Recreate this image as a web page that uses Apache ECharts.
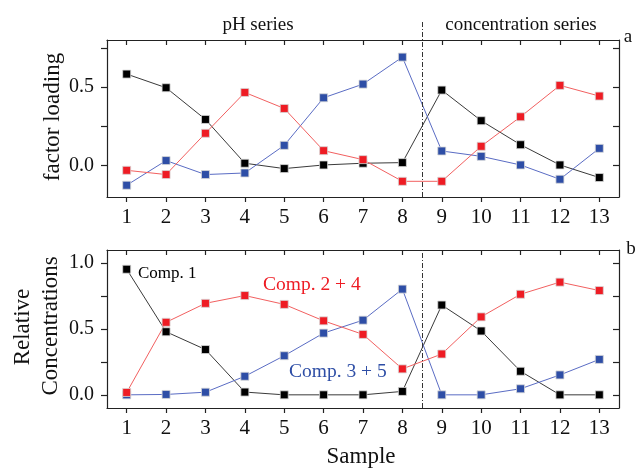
<!DOCTYPE html>
<html>
<head>
<meta charset="utf-8">
<script src="https://cdn.jsdelivr.net/npm/echarts@6/dist/echarts.min.js"></script>
<style>
html,body{margin:0;padding:0;background:#fff;}
#c{width:635px;height:469px;}
</style>
</head>
<body>
<div id="c"></div>
<script>
// ---- data ----
const samples = [1,2,3,4,5,6,7,8,9,10,11,12,13];
const loadComp1 = [0.583,0.496,0.294,0.015,-0.019,0.004,0.015,0.019,0.481,0.286,0.133,0.004,-0.076];
const loadComp24 = [-0.030,-0.057,0.206,0.466,0.364,0.095,0.038,-0.100,-0.100,0.123,0.311,0.511,0.443];
const loadComp35 = [-0.125,0.032,-0.057,-0.047,0.129,0.432,0.519,0.691,0.093,0.059,0.004,-0.087,0.110];
const concComp1 = [0.954,0.479,0.344,0.021,0.0,0.0,0.0,0.026,0.682,0.485,0.179,0.0,0.0];
const concComp24 = [0.018,0.551,0.695,0.754,0.687,0.562,0.459,0.197,0.310,0.592,0.764,0.856,0.792];
const concComp35 = [0.0,0.003,0.020,0.141,0.297,0.469,0.567,0.803,0.0,0.0,0.046,0.151,0.269];
const topTickLabels = [0, 0.5];
const topTicks = [0, 0.25, 0.5, 0.75];
const botTickLabels = [0, 0.5, 1.0];
const botTicks = [0, 0.25, 0.5, 0.75, 1.0];
const separatorX = 8.5;

const FONT = '"Liberation Serif", "DejaVu Serif", serif';
const BLACK = '#000000', RED = '#ee1c24', BLUE = '#2e4ea6';
const LBLACK = '#3a3a3a', LRED = '#f26060', LBLUE = '#5a6cc4';

function pairs(vals){ return samples.map((s,i)=>[s, vals[i]]); }

function xAx(grid, pos, showLabels){
  return {
    type:'value', gridIndex:grid, position:pos, min:0.5, max:13.5,
    axisLine:{show:true, onZero:false, lineStyle:{color:'#222', width:1.2}},
    axisTick:{show:true, inside: !showLabels, length:5, customValues:samples, lineStyle:{color:'#222', width:1.2}},
    axisLabel:{show:showLabels, customValues:samples, fontFamily:FONT, fontSize:21, color:'#111', margin:10},
    splitLine:{show:false}
  };
}
function yAx(grid, pos, min, max, labels, ticks, showLabels){
  return {
    type:'value', gridIndex:grid, position:pos, min:min, max:max,
    axisLine:{show:true, onZero:false, lineStyle:{color:'#222', width:1.2}},
    axisTick:{show:true, inside: !showLabels, length:6, customValues:ticks, lineStyle:{color:'#222', width:1.2}},
    axisLabel:{show:showLabels, customValues:labels, fontFamily:FONT, fontSize:20, color:'#111', margin:13,
      formatter:v=>Number(v).toFixed(1)},
    splitLine:{show:false}
  };
}
function ser(xi, yi, vals, col, lcol){
  return {
    type:'line', xAxisIndex:xi, yAxisIndex:yi, data:pairs(vals),
    symbol:'rect', symbolSize:8, showSymbol:true,
    lineStyle:{color:lcol, width:1},
    itemStyle:{color:col, borderColor:'#d8d8d8', borderWidth:0.8},
    animation:false, z:3
  };
}
function sepLine(xi, yi){
  return {
    type:'line', xAxisIndex:xi, yAxisIndex:yi, data:[], animation:false,
    markLine:{silent:true, symbol:['none','none'], label:{show:false}, animation:false,
      lineStyle:{color:'#333', width:1, type:[5,2,1,2]},
      data:[{xAxis:separatorX}]}
  };
}

const chart = echarts.init(document.getElementById('c'), null, {renderer:'canvas'});
chart.setOption({
  backgroundColor:'#fff',
  animation:false,
  grid:[
    {left:107, right:16, top:40, height:157},
    {left:107, right:16, top:250, height:158},
    {left:107, right:16, top:22, height:175}
  ],
  xAxis:[
    xAx(0,'bottom',true), xAx(0,'top',false),
    xAx(1,'bottom',true), xAx(1,'top',false),
    {type:'value', gridIndex:2, min:0.5, max:13.5, show:false}
  ],
  yAxis:[
    yAx(0,'left',-0.2,0.8,topTickLabels,topTicks,true), yAx(0,'right',-0.2,0.8,topTickLabels,topTicks,false),
    yAx(1,'left',-0.1,1.1,botTickLabels,botTicks,true), yAx(1,'right',-0.1,1.1,botTickLabels,botTicks,false),
    {type:'value', gridIndex:2, min:0, max:1, show:false}
  ],
  series:[
    sepLine(4,4),
    sepLine(2,2),
    ser(0,0,loadComp1,BLACK,LBLACK),
    ser(0,0,loadComp35,BLUE,LBLUE),
    ser(0,0,loadComp24,RED,LRED),
    ser(2,2,concComp1,BLACK,LBLACK),
    ser(2,2,concComp35,BLUE,LBLUE),
    ser(2,2,concComp24,RED,LRED)
  ],
  graphic:[
    {type:'text', x:258, y:25, style:{text:'pH series', font:'19px '+FONT, fill:'#111', align:'center', verticalAlign:'middle'}},
    {type:'text', x:521, y:25, style:{text:'concentration series', font:'19px '+FONT, fill:'#111', align:'center', verticalAlign:'middle'}},
    {type:'text', x:628, y:37, style:{text:'a', font:'19px '+FONT, fill:'#111', align:'center', verticalAlign:'middle'}},
    {type:'text', x:631, y:249, style:{text:'b', font:'19px '+FONT, fill:'#111', align:'center', verticalAlign:'middle'}},
    {type:'text', x:53, y:117, rotation:Math.PI/2, style:{text:'factor loading', font:'23px '+FONT, fill:'#111', align:'center', verticalAlign:'middle'}},
    {type:'text', x:23, y:327, rotation:Math.PI/2, style:{text:'Relative', font:'23px '+FONT, fill:'#111', align:'center', verticalAlign:'middle'}},
    {type:'text', x:51, y:326, rotation:Math.PI/2, style:{text:'Concentrations', font:'23px '+FONT, fill:'#111', align:'center', verticalAlign:'middle'}},
    {type:'text', x:361, y:457, style:{text:'Sample', font:'23px '+FONT, fill:'#111', align:'center', verticalAlign:'middle'}},
    {type:'text', x:138, y:274, style:{text:'Comp. 1', font:'17px '+FONT, fill:'#000', align:'left', verticalAlign:'middle'}},
    {type:'text', x:263, y:285, style:{text:'Comp. 2 + 4', font:'19.5px '+FONT, fill:RED, align:'left', verticalAlign:'middle'}},
    {type:'text', x:289, y:372, style:{text:'Comp. 3 + 5', font:'19.5px '+FONT, fill:BLUE, align:'left', verticalAlign:'middle'}}
  ]
});
</script>
</body>
</html>
